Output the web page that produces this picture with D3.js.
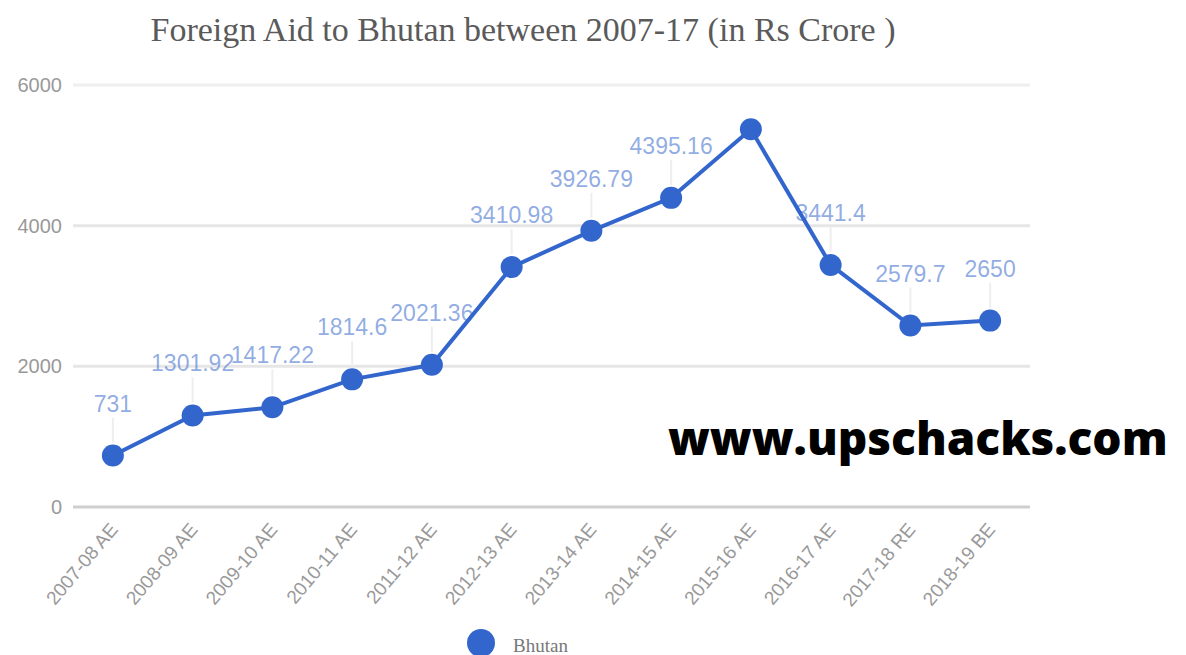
<!DOCTYPE html>
<html lang="en">
<head>
<meta charset="utf-8">
<title>Foreign Aid to Bhutan</title>
<script src="https://d3js.org/d3.v7.min.js"></script>
<style>
  body { margin: 0; background: #fff; }
  .grid line { stroke: #e6e6e6; stroke-width: 3; }
  .tick-y { fill: #999; font: 20px "Liberation Sans", Arial, sans-serif; }
  .tick-x { fill: #999; font: 19px "Liberation Sans", Arial, sans-serif; }
  .annot { fill: #3366cc; fill-opacity: 0.55; font: 23px "Liberation Sans", Arial, sans-serif; }
</style>
</head>
<body>
<svg id="chart" width="1186" height="655"></svg>
<script>
var categories = ["2007-08 AE", "2008-09 AE", "2009-10 AE", "2010-11 AE", "2011-12 AE", "2012-13 AE",
                  "2013-14 AE", "2014-15 AE", "2015-16 AE", "2016-17 AE", "2017-18 RE", "2018-19 BE"];
var values = [731, 1301.92, 1417.22, 1814.6, 2021.36, 3410.98, 3926.79, 4395.16, 5370, 3441.4, 2579.7, 2650];
var labels = ["731", "1301.92", "1417.22", "1814.6", "2021.36", "3410.98", "3926.79", "4395.16", "", "3441.4", "2579.7", "2650"];
var yTicks = [0, 2000, 4000, 6000];
var seriesName = "Bhutan";
var title = "Foreign Aid to Bhutan between 2007-17 (in Rs Crore )";

var svg = d3.select("#chart");
var m = {left: 73, right: 1030, top: 85, bottom: 507};
var blue = "#3366cc";

var x = d3.scaleBand().domain(categories).range([m.left, m.right]);
var y = d3.scaleLinear().domain([0, 6000]).range([m.bottom, m.top]);
function cx(d) { return x(d) + x.bandwidth() / 2; }

// title
svg.append("text")
  .attr("x", 523).attr("y", 41)
  .attr("text-anchor", "middle")
  .style("font", "34px 'Liberation Serif', 'Times New Roman', serif")
  .style("fill", "#5a5a5a")
  .text(title);

// gridlines
var grid = svg.append("g").attr("class", "grid");
grid.selectAll("line").data(yTicks).enter().append("line")
  .attr("x1", m.left).attr("x2", m.right)
  .attr("y1", function(d) { return y(d); }).attr("y2", function(d) { return y(d); })
  .style("stroke", function(d) { return d === 0 ? "#cfcfcf" : (d === 6000 ? "#efefef" : "#e6e6e6"); });

// y axis labels
svg.selectAll(".tick-y").data(yTicks).enter().append("text")
  .attr("class", "tick-y")
  .attr("x", 62).attr("y", function(d) { return y(d) + 7; })
  .attr("text-anchor", "end")
  .text(function(d) { return d; });

// x axis labels
svg.selectAll(".tick-x").data(categories).enter().append("text")
  .attr("class", "tick-x")
  .attr("text-anchor", "end")
  .attr("transform", function(d) { return "translate(" + (cx(d) + 6) + ",530) rotate(-50)"; })
  .text(function(d) { return d; });

var pts = categories.map(function(c, i) { return {c: c, v: values[i], l: labels[i]}; });

// annotation stems
svg.selectAll(".stem").data(pts.filter(function(p) { return p.l; })).enter().append("line")
  .attr("class", "stem")
  .attr("x1", function(p) { return cx(p.c); }).attr("x2", function(p) { return cx(p.c); })
  .attr("y1", function(p) { return y(p.v) - 38; }).attr("y2", function(p) { return y(p.v) - 13; })
  .style("stroke", "#eeeeee").style("stroke-width", 2);

// line
var line = d3.line().x(function(p) { return cx(p.c); }).y(function(p) { return y(p.v); });
svg.append("path").datum(pts)
  .attr("d", line)
  .style("fill", "none").style("stroke", blue).style("stroke-width", 4);

// points
svg.selectAll(".pt").data(pts).enter().append("circle")
  .attr("class", "pt")
  .attr("cx", function(p) { return cx(p.c); })
  .attr("cy", function(p) { return y(p.v); })
  .attr("r", 11)
  .style("fill", blue);

// annotations
svg.selectAll(".annot").data(pts.filter(function(p) { return p.l; })).enter().append("text")
  .attr("class", "annot")
  .attr("x", function(p) { return cx(p.c); })
  .attr("y", function(p) { return y(p.v) - 44; })
  .attr("text-anchor", "middle")
  .text(function(p) { return p.l; });

// legend
svg.append("circle").attr("cx", 481).attr("cy", 643).attr("r", 14).style("fill", blue);
svg.append("text")
  .attr("x", 513).attr("y", 652)
  .style("font", "19px 'Liberation Serif', 'Times New Roman', serif")
  .style("fill", "#777")
  .text(seriesName);

// watermark
svg.append("text")
  .attr("x", 668).attr("y", 455)
  .style("font", "800 46px 'Open Sans', sans-serif")
  .style("fill", "#000")
  .text("www.upschacks.com");
</script>
</body>
</html>
